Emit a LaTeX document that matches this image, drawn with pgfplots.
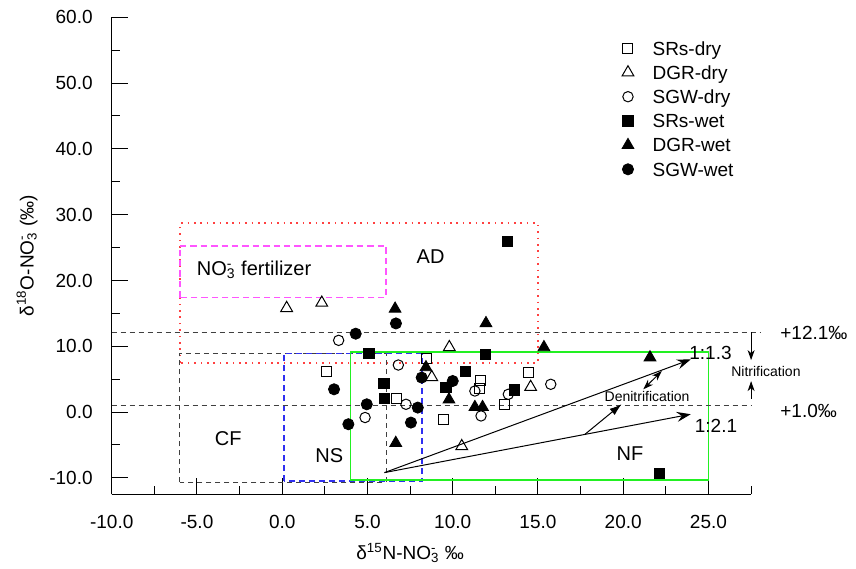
\documentclass[border=0pt]{standalone}
\usepackage{fontspec}
\setmainfont{Liberation Sans}
\usepackage{pgfplots}
\pgfplotsset{compat=1.18}
\usetikzlibrary{arrows.meta}

\definecolor{adred}{HTML}{FF4040}
\definecolor{fertmag}{HTML}{FF55FF}
\definecolor{nsblue}{HTML}{3030F0}
\definecolor{nfgreen}{HTML}{22F022}
\definecolor{refgray}{HTML}{404040}

% nitrate with stacked sub- and superscript
\newcommand{\nitrate}{NO\rlap{\textsuperscript{-}}\textsubscript{3}}
\newcommand{\fs}[1]{\fontsize{#1}{#1}\selectfont}

\begin{document}
\begin{tikzpicture}[font=\fs{9.5}]
\begin{axis}[
  scale only axis, width=319.7pt, height=238.5pt,
  xmin=-10, xmax=27.5, ymin=-12.5, ymax=60,
  axis lines*=left,
  axis line style={line width=0.6pt, black},
  xtick={-10,-5,...,25}, ytick={-10,0,...,60},
  minor xtick={-7.5,-2.5,...,27.5}, minor ytick={-5,5,...,55},
  tick align=inside,
  major tick length=8pt, minor tick length=4pt,
  tick style={black, line width=0.5pt},
  scaled ticks=false,
  xticklabel style={/pgf/number format/fixed, /pgf/number format/fixed zerofill,
    /pgf/number format/precision=1, /pgf/number format/assume math mode=true,
    font=\fs{9.5}, yshift=-7pt},
  yticklabel style={/pgf/number format/fixed, /pgf/number format/fixed zerofill,
    /pgf/number format/precision=1, /pgf/number format/assume math mode=true,
    font=\fs{9.5}, xshift=-6pt},
  xlabel={δ\textsuperscript{15}N-\nitrate{} ‰},
  xlabel style={at={(axis description cs:0.4667,-0.1229)}, anchor=center, font=\fs{9.5}},
  ylabel={δ\textsuperscript{18}O-\nitrate{}  (‰)},
  ylabel style={at={(axis description cs:-0.1323,0.5)}, anchor=center, font=\fs{9.5}},
  clip=false,
  legend cell align=left,
  legend style={at={(axis description cs:0.7976,0.9612)}, anchor=north west,
    draw=none, fill=none, inner xsep=0pt, inner ysep=0pt, row sep=0pt,
    column sep=7.5pt, font=\fs{9.5},
    nodes={inner xsep=1.85pt, inner ysep=0pt, text height=9.4pt, text depth=2.7pt}},
]

% source regions
\draw[adred, line width=0.8pt, dash pattern=on 0.8pt off 2.4pt]
  (axis cs:-6,7.5) rectangle (axis cs:15,28.7);
\draw[fertmag, line width=0.9pt, dash pattern=on 3.2pt off 2pt]
  (axis cs:-6,17.4) rectangle (axis cs:6.1,25.3);
\draw[refgray, line width=0.5pt, dash pattern=on 2.5pt off 2pt]
  (axis cs:-6,-10.7) rectangle (axis cs:6.1,8.9);
\draw[nsblue, line width=0.7pt, dash pattern=on 3pt off 2pt]
  (axis cs:0.1,-10.5) rectangle (axis cs:8.2,8.9);
\draw[nfgreen, line width=0.8pt]
  (axis cs:4,-10.3) rectangle (axis cs:25,9.1);

% atmospheric O2 / water reference lines
\draw[refgray, line width=0.5pt, dash pattern=on 2.5pt off 2pt]
  (axis cs:-10,12.1) -- (axis cs:28.1,12.1);
\draw[refgray, line width=0.5pt, dash pattern=on 2.5pt off 2pt]
  (axis cs:-10,1.0) -- (axis cs:27.5,1.0);
\node[anchor=west, font=\fs{9.5}] at (axis cs:28.8,12.1) {+12.1‰};
\node[anchor=west, font=\fs{9.5}] at (axis cs:28.8,0.1) {+1.0‰};

% nitrification arrows
\draw[line width=0.5pt, -{Stealth[length=5pt,width=3.5pt,inset=1.5pt]}]
  (axis cs:27.5,12.1) -- (axis cs:27.5,7.9);
\draw[line width=0.5pt, -{Stealth[length=5pt,width=3.5pt,inset=1.5pt]}]
  (axis cs:27.5,2.0) -- (axis cs:27.5,4.7);
\node[font=\fs{7}] at (axis cs:28.37,6.2) {Nitrification};

% denitrification trends
\draw[line width=0.5pt, -{Stealth[length=7pt,width=5pt,inset=2.5pt]}]
  (axis cs:6,-9.2) -- (axis cs:23.96,8.0);
\draw[line width=0.5pt, -{Stealth[length=7pt,width=5pt,inset=2.5pt]}]
  (axis cs:6,-9.2) -- (axis cs:23.96,-0.33);
\draw[line width=0.5pt, {Stealth[length=5pt,width=3.5pt,inset=1.5pt]}-{Stealth[length=5pt,width=3.5pt,inset=1.5pt]}]
  (axis cs:21.18,3.46) -- (axis cs:22.26,6.24);
\draw[line width=0.5pt, -{Latex[length=6pt,width=4pt]}]
  (axis cs:17.76,-3.37) -- (axis cs:19.9,1.18);
\node[font=\fs{7}] at (axis cs:21.4,2.35) {Denitrification};
\node[font=\fs{9.5}] at (axis cs:25.12,9.03) {1:1.3};
\node[font=\fs{9.5}] at (axis cs:25.44,-2.1) {1:2.1};

% region names
\node[font=\fs{10}] at (axis cs:-1.65,21.6) {\nitrate{} fertilizer};
\node[font=\fs{10}] at (axis cs:8.7,23.6) {AD};
\node[font=\fs{10}] at (axis cs:-3.16,-4.0) {CF};
\node[font=\fs{10}] at (axis cs:2.76,-6.66) {NS};
\node[font=\fs{10}] at (axis cs:20.4,-6.25) {NF};

% samples
\addplot[only marks, mark=square, mark size=2.5pt,
  mark options={black, fill=white, line width=0.5pt}] coordinates {
  (2.57,6.24) (8.47,8.16) (6.72,2.05) (11.6,4.87) (11.56,3.57)
  (14.43,5.99) (13.03,1.08) (9.45,-1.1)
};
\addlegendentry{SRs-dry}
\addplot[only marks, mark=triangle, mark size=3.4pt,
  mark options={black, fill=white, line width=0.5pt}] coordinates {
  (0.26,15.8) (2.32,16.6) (9.8,9.85) (8.77,5.3) (14.57,3.8) (10.53,-5.2)
};
\addlegendentry{DGR-dry}
\addplot[only marks, mark=o, mark size=2.6pt,
  mark options={black, fill=white, line width=0.5pt}] coordinates {
  (3.31,10.9) (6.81,7.15) (11.3,3.2) (13.26,2.7) (15.75,4.22)
  (7.26,1.18) (4.86,-0.83) (11.66,-0.59)
};
\addlegendentry{SGW-dry}
\addplot[only marks, mark=square*, mark size=2.6pt,
  mark options={black, fill=black}] coordinates {
  (13.19,25.96) (5.09,8.88) (11.9,8.77) (10.76,6.15) (5.97,4.37)
  (13.6,3.35) (5.99,2.09) (22.12,-9.29) (9.6,3.72)
};
\addlegendentry{SRs-wet}
\addplot[only marks, mark=triangle*, mark size=3.4pt,
  mark options={black, fill=black}] coordinates {
  (6.62,15.7) (11.95,13.5) (15.35,9.85) (8.43,6.8) (9.78,1.9)
  (11.3,0.75) (11.75,0.75) (6.66,-4.7) (21.57,8.3)
};
\addlegendentry{DGR-wet}
\addplot[only marks, mark=*, mark size=2.8pt,
  mark options={black, fill=black}] coordinates {
  (6.67,13.47) (4.31,11.91) (3.04,3.46) (8.18,5.24) (10.0,4.72)
  (7.95,0.68) (4.96,1.18) (3.88,-1.85) (7.55,-1.6)
};
\addlegendentry{SGW-wet}
\end{axis}
\pgfresetboundingbox
\useasboundingbox (-55.85pt,-36.85pt) rectangle (372.15pt,247.15pt);
\end{tikzpicture}
\end{document}
